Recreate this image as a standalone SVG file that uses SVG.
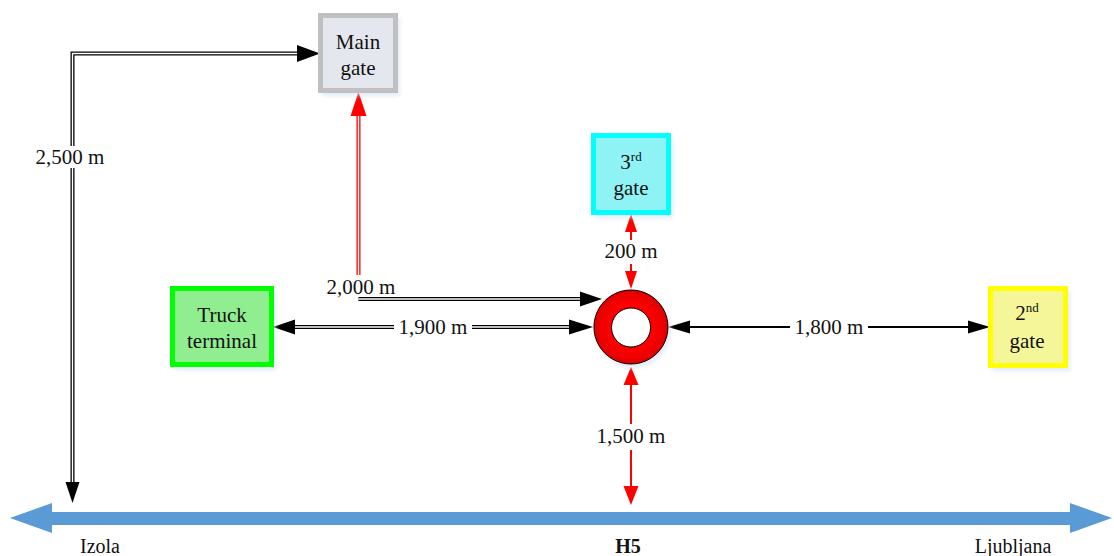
<svg xmlns="http://www.w3.org/2000/svg" width="1114" height="556" viewBox="0 0 1114 556">
<style>
text{font-family:"Liberation Serif","Times New Roman",serif;font-size:21px;fill:#111;text-anchor:middle;dominant-baseline:central}
.sup{font-size:13px}
.place{font-size:20px}
.box{stroke-width:5}
.dblB{fill:none;stroke:#000;stroke-width:4}
.dblR{fill:none;stroke:#f00;stroke-width:4}
.core{fill:none;stroke:#fff;stroke-width:1.4}
.blk{fill:none;stroke:#000;stroke-width:2}
.red{fill:none;stroke:#f00;stroke-width:2}
.hb{fill:#000}
.hr{fill:#f00}
.bg{fill:#fff}
.shadow{fill:#cfe0f3;opacity:0.6}
</style>
<defs>
<radialGradient id="ring" cx="0.5" cy="0.5" r="0.5"><stop offset="0.6" stop-color="#ff0000"/><stop offset="1" stop-color="#e00000"/></radialGradient>
<filter id="sh" x="-20%" y="-20%" width="140%" height="140%"><feGaussianBlur stdDeviation="2"/></filter>
</defs>

<g id="connectors">
<!-- road -->
<path d="M10,518 L52,503 L52,512 L1070,512 L1070,503 L1112,518 L1070,533 L1070,525 L52,525 L52,533 Z" fill="#5b9bd5"/>
<!-- 2,500 m elbow -->
<path class="dblB" d="M72.5,484 L72.5,53.5 L298,53.5"/>
<path class="core" d="M72.5,484 L72.5,53.5 L297,53.5"/>
<polygon class="hb" points="297,45 320,53.5 297,62"/>
<polygon class="hb" points="65.5,482 72.5,503 79.5,482"/>
<rect class="bg" x="30" y="146" width="80" height="22"/>
<text x="70" y="157">2,500 m</text>
<!-- 2,000 m -->
<path class="dblR" d="M358.5,275 L358.5,114"/>
<path class="core" d="M358.5,275 L358.5,116"/>
<polygon class="hr" points="350.5,116 358.5,92 366.5,116"/>
<path class="dblB" d="M358.5,299 L582,299"/>
<path class="core" d="M358.5,299 L580,299"/>
<polygon class="hb" points="580,291.5 602,299 580,306.5"/>
<text x="361" y="287">2,000 m</text>
<!-- 1,900 m -->
<path class="dblB" d="M293,327 L571,327"/>
<path class="core" d="M295,327 L569,327"/>
<polygon class="hb" points="295,319.5 273,327 295,334.5"/>
<polygon class="hb" points="569,319.5 593,327 569,334.5"/>
<rect class="bg" x="394" y="316" width="78" height="22"/>
<text x="433" y="327">1,900 m</text>
<!-- 200 m -->
<path class="red" d="M631,230 L631,273"/>
<polygon class="hr" points="625,232 631,214 637,232"/>
<polygon class="hr" points="625,271 631,289 637,271"/>
<rect class="bg" x="598" y="240" width="66" height="24"/>
<text x="631" y="251">200 m</text>
<!-- 1,800 m -->
<path class="blk" d="M688,327 L970,327"/>
<polygon class="hb" points="690,320.5 668,327 690,333.5"/>
<polygon class="hb" points="968,320.5 990,327 968,333.5"/>
<rect class="bg" x="790" y="316" width="78" height="22"/>
<text x="829" y="327">1,800 m</text>
<!-- 1,500 m -->
<path class="red" d="M631,383 L631,488"/>
<polygon class="hr" points="623.5,385 631,367 638.5,385"/>
<polygon class="hr" points="623.5,486 631,505 638.5,486"/>
<rect class="bg" x="592" y="424" width="78" height="26"/>
<text x="631" y="436">1,500 m</text>
</g>

<g id="main-gate">
<rect class="shadow" x="322" y="18" width="78" height="78" filter="url(#sh)"/>
<rect class="box" x="320.5" y="15.5" width="75" height="75" fill="#e4e8ee" stroke="#c0c0c0"/>
<text x="358" y="42">Main</text>
<text x="358" y="68">gate</text>
</g>

<g id="third-gate">
<rect class="shadow" x="595" y="138" width="78" height="80" filter="url(#sh)"/>
<rect class="box" x="593.5" y="135.5" width="75" height="77" fill="#8ff2f4" stroke="#00ffff"/>
<text x="631" y="162">3<tspan class="sup" dy="-6">rd</tspan></text>
<text x="631" y="188">gate</text>
</g>

<g id="truck-terminal">
<rect class="shadow" x="174" y="291" width="102" height="79" filter="url(#sh)"/>
<rect class="box" x="172.5" y="288.5" width="99" height="76" fill="#90ee90" stroke="#00ff00"/>
<text x="222" y="315">Truck</text>
<text x="222" y="341">terminal</text>
</g>

<g id="second-gate">
<rect class="shadow" x="992" y="291" width="78" height="80" filter="url(#sh)"/>
<rect class="box" x="990.5" y="288.5" width="75" height="77" fill="#f5f59a" stroke="#ffff00"/>
<text x="1027" y="313">2<tspan class="sup" dy="-6">nd</tspan></text>
<text x="1027" y="341">gate</text>
</g>

<g id="roundabout">
<circle class="shadow" cx="633" cy="330" r="38" filter="url(#sh)"/>
<circle cx="631" cy="327" r="19.5" fill="#fff"/>
<path d="M631,290 A37,37 0 1,1 630.9,290 Z M631,308 A19.5,19.5 0 1,0 631.1,308 Z" fill="url(#ring)" fill-rule="evenodd" stroke="#000" stroke-width="1"/>
</g>

<g id="labels">
<text class="place" x="100" y="546">Izola</text>
<text class="place" x="628" y="546" font-weight="bold">H5</text>
<text class="place" x="1013" y="546">Ljubljana</text>
</g>
</svg>
